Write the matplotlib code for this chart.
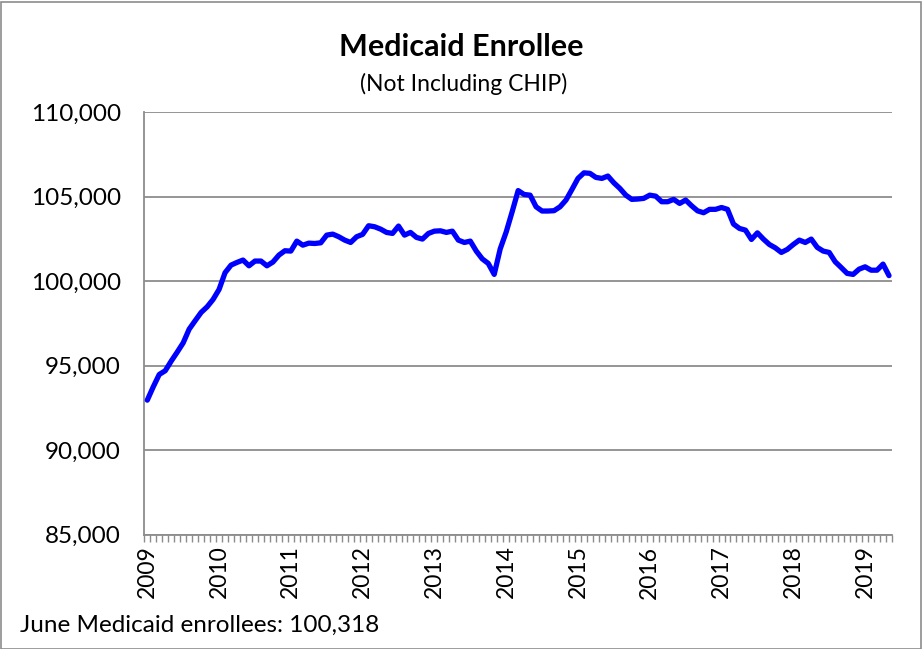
import matplotlib
matplotlib.use("Agg")
import matplotlib.pyplot as plt
from matplotlib.patches import Rectangle
from matplotlib.ticker import FuncFormatter, FixedLocator

# Monthly Medicaid enrollees, Jan 2009 .. May 2019
enrollees = [
    92950, 93740, 94470, 94690, 95260, 95790, 96340, 97150, 97650, 98140, 98470, 98910,
    99500, 100490, 100940, 101100, 101240, 100900, 101180, 101180, 100900, 101120, 101530, 101790,
    101770, 102360, 102120, 102240, 102220, 102260, 102715, 102775, 102620, 102420, 102280, 102620,
    102760, 103270, 103210, 103070, 102875, 102815, 103250, 102715, 102875, 102580, 102480, 102815,
    102950, 102970, 102875, 102950, 102420, 102280, 102360, 101770, 101310, 101040, 100390, 101900,
    102900, 104100, 105350, 105120, 105080, 104390, 104140, 104140, 104160, 104390, 104790, 105420,
    106070, 106400, 106370, 106130, 106070, 106210, 105810, 105480, 105080, 104830, 104850, 104890,
    105080, 105020, 104690, 104690, 104830, 104590, 104790, 104450, 104150, 104040, 104240, 104240,
    104350, 104240, 103370, 103110, 103010, 102460, 102850, 102480, 102160, 101960, 101690, 101870,
    102160, 102420, 102280, 102480, 101990, 101770, 101690, 101140, 100800, 100450, 100390, 100700,
    100840, 100640, 100640, 101000, 100318,
]
year_labels = ["2009", "2010", "2011", "2012", "2013", "2014", "2015", "2016", "2017", "2018", "2019"]
y_ticks = [85000, 90000, 95000, 100000, 105000, 110000]
title = "Medicaid Enrollee"
subtitle = "(Not Including CHIP)"
footer = "June Medicaid enrollees: 100,318"

FONT = ["Lato", "DejaVu Sans"]
plt.rcParams["font.family"] = FONT

W, H = 922, 649
fig = plt.figure(figsize=(W / 100, H / 100), dpi=100)
ax = fig.add_axes([144.3 / W, 1 - 534.5 / H, (892 - 144.3) / W, (534.5 - 112) / H])

n = len(enrollees)
x = list(range(n))
ax.plot(x, enrollees, color="#0000FF", lw=3.8, solid_joinstyle="round", solid_capstyle="round", zorder=3)

ax.set_xlim(-0.5, n - 0.5)
ax.set_ylim(85000, 110000)
ax.set_yticks(y_ticks)
ax.yaxis.set_major_formatter(FuncFormatter(lambda v, p: f"{int(v):,}"))
ax.grid(axis="y", color="#8c8c8c", lw=1.3)
ax.set_axisbelow(True)

# x ticks: labels at each January, ticks between categories
ax.set_xticks([12 * i for i in range(len(year_labels))])
ax.set_xticklabels(year_labels, rotation=90, va="top", ha="center")
ax.tick_params(axis="x", which="major", length=0, pad=8, labelsize=16.5)
ax.xaxis.set_minor_locator(FixedLocator([i - 0.5 for i in range(n + 1)]))
ax.tick_params(axis="x", which="minor", length=5, width=1.0, color="#8c8c8c", direction="out")
ax.tick_params(axis="y", length=0, pad=17, labelsize=17.5)

for s in ["top", "right"]:
    ax.spines[s].set_visible(False)
for s in ["left", "bottom"]:
    ax.spines[s].set_color("#8c8c8c")
    ax.spines[s].set_linewidth(1.3)

fig.text(461 / W, 1 - 55.5 / H, title, ha="center", va="baseline", fontsize=22, fontweight="bold")
fig.text(464 / W, 1 - 91 / H, subtitle, ha="center", va="baseline", fontsize=16.5)
fig.text(20 / W, 1 - 632 / H, footer, ha="left", va="baseline", fontsize=17.5)

fig.patches.append(Rectangle((0.5 / W, 0.5 / H), (W - 2) / W, (H - 2) / H, transform=fig.transFigure,
                             fill=False, edgecolor="#8c8c8c", lw=1.2))

fig.savefig("out.png", dpi=100)
